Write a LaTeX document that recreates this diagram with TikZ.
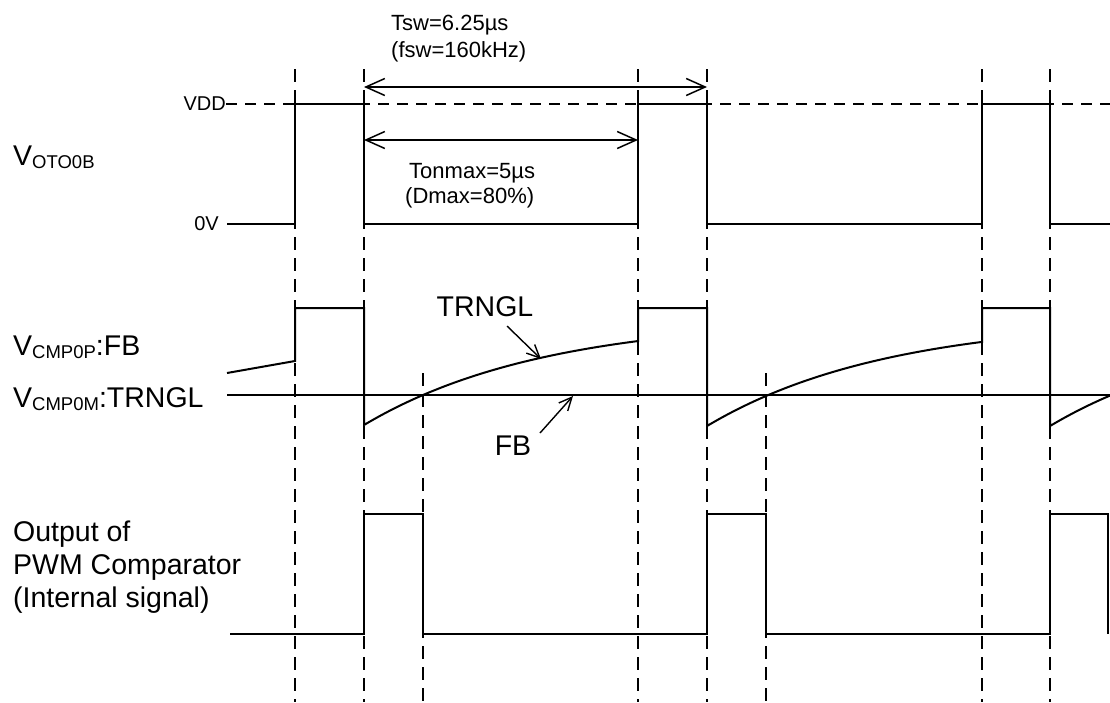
\documentclass[tikz,border=0pt]{standalone}
\usepackage{fontspec}
\setmainfont{Liberation Sans}
\usetikzlibrary{arrows.meta}
\newcommand\bigtxt{\fontsize{28.5}{33}\selectfont}
\newcommand\smtxt{\fontsize{22}{25}\selectfont}
\newcommand\lvtxt{\fontsize{20}{24}\selectfont}
\newcommand\subtx[1]{\raisebox{-3pt}{\fontsize{18.5}{20}\selectfont #1}}
\begin{document}
\begin{tikzpicture}[x=1pt,y=-1pt,
  sig/.style={line width=2pt, line join=miter},
  guide/.style={line width=1.6pt, dash pattern=on 13pt off 8pt},
  dimarrow/.style={line width=1.5pt, {Straight Barb[length=19pt,width=17pt,line width=1.5pt]}-{Straight Barb[length=19pt,width=17pt,line width=1.5pt]}},
  ptr/.style={line width=1.4pt, -{Straight Barb[length=13pt,width=12pt,line width=1.4pt]}},
  lbl/.style={inner sep=0pt, anchor=base west},
]
\useasboundingbox (0,0) rectangle (1110,702);

% vertical guide lines
\foreach \gx in {295,364,638,707,982,1050}{
  \draw[guide] (\gx,69) -- (\gx,702);
}
\foreach \gx in {423,766}{
  \draw[guide] (\gx,373) -- (\gx,702);
}

% VDD level (dashed)
\node[inner sep=0pt, anchor=east] (vdd) at (226,104) {\lvtxt VDD};
\coordinate (vddend) at (1110,104);
\draw[guide, dash pattern=on 11pt off 8pt] (vdd.east) -- (vddend);

% V_OTO0B waveform
\node[inner sep=0pt, anchor=east] (zero) at (219,224) {\lvtxt 0V};
\draw[sig] (227,224) -- (295,224) -- (295,104) -- (364,104) -- (364,224)
  -- (638,224) -- (638,104) -- (707,104) -- (707,224)
  -- (982,224) -- (982,104) -- (1050,104) -- (1050,224) -- (1110,224);

% dimension arrows
\coordinate (tswL) at (364,87);
\coordinate (tswR) at (707,87);
\coordinate (tonL) at (364,140);
\coordinate (tonR) at (638,140);
\draw[dimarrow] (tswL) -- (tswR);
\draw[dimarrow] (tonL) -- (tonR);
\node[lbl] (tsw) at (391,30) {\smtxt Tsw=6.25µs};
\node[lbl] (fsw) at (391,57) {\smtxt (fsw=160kHz)};
\node[lbl] (ton) at (409,178) {\smtxt Tonmax=5µs};
\node[lbl] (dmax) at (405,203) {\smtxt (Dmax=80\%)};

% signal labels
\node[lbl] (voto) at (13,165) {\bigtxt V\subtx{OTO0B}};
\node[lbl] (vcmpp) at (13,355) {\bigtxt V\subtx{CMP0P}:FB};
\node[lbl] (vcmpm) at (13,407) {\bigtxt V\subtx{CMP0M}:TRNGL};

% FB horizontal level
\draw[sig] (227,395) -- (1110,395);

% TRNGL waveform
\draw[sig] (227,373) -- (295,361) -- (295,308) -- (364,308) -- (364,425)
  -- plot[domain=0:274, samples=60] ({364+\x},{425-107.4*(1-exp(-\x/180))})
  -- (638,308) -- (707,308) -- (707,426)
  -- plot[domain=0:275, samples=60] ({707+\x},{426-107.4*(1-exp(-\x/180))})
  -- (982,308) -- (1050,308) -- (1050,426)
  -- plot[domain=0:60, samples=20] ({1050+\x},{426-107.4*(1-exp(-\x/180))});

% pointer labels
\node[inner sep=0pt] (trngl) at (485,307) {\bigtxt TRNGL};
\node[inner sep=0pt] (fb) at (513,446) {\bigtxt FB};
\coordinate (trnglS) at (507,326);
\coordinate (trnglT) at (541,359);
\coordinate (fbS) at (540,433);
\coordinate (fbT) at (573,396);
\draw[ptr] (trnglS) -- (trnglT);
\draw[ptr] (fbS) -- (fbT);

% PWM output
\node[lbl] (out1) at (13,541) {\bigtxt Output of};
\node[lbl] (out2) at (13,574) {\bigtxt PWM Comparator};
\node[lbl] (out3) at (13,607) {\bigtxt (Internal signal)};
\draw[sig] (230,634) -- (364,634) -- (364,514) -- (423,514) -- (423,634)
  -- (707,634) -- (707,514) -- (766,514) -- (766,634)
  -- (1050,634) -- (1050,514) -- (1108,514) -- (1108,634);
\end{tikzpicture}
\end{document}
